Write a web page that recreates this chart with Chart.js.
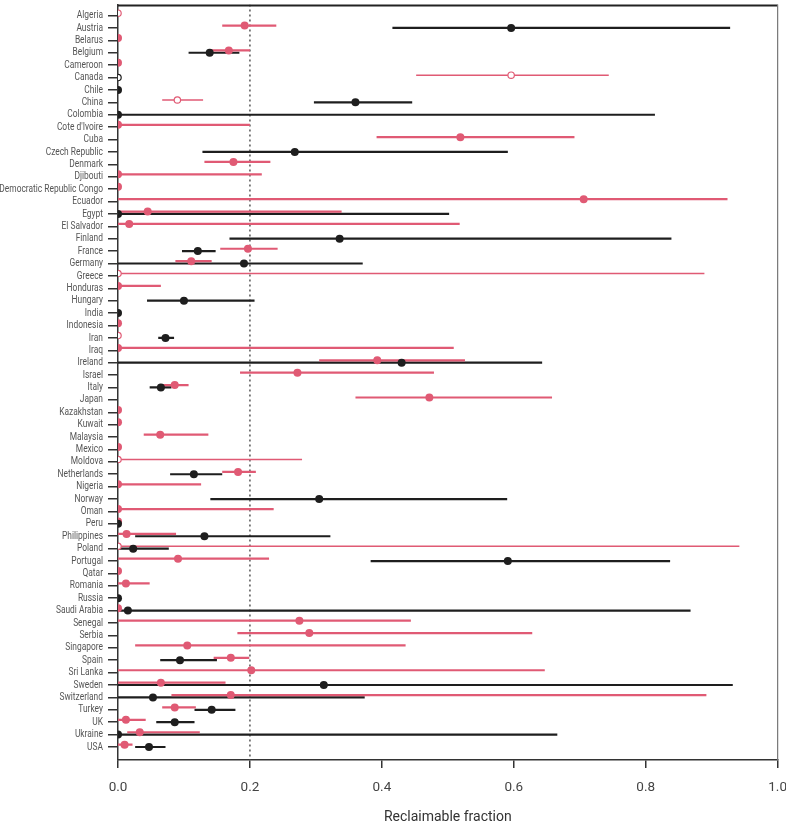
<!DOCTYPE html>
<html>
<head>
<meta charset="utf-8">
<script src="https://cdn.jsdelivr.net/npm/chart.js@4.4.1/dist/chart.umd.min.js"></script>
<style>
  html, body { margin: 0; padding: 0; background: #fff; overflow: hidden; }
  #wrap { width: 786px; height: 826px; }
</style>
</head>
<body>
<div id="wrap"><canvas id="chart"></canvas></div>
<script>
// --- data ---
const COUNTRIES = ['Algeria','Austria','Belarus','Belgium','Cameroon','Canada','Chile','China','Colombia',"Cote d'Ivoire",
  'Cuba','Czech Republic','Denmark','Djibouti','Democratic Republic Congo','Ecuador','Egypt','El Salvador','Finland','France',
  'Germany','Greece','Honduras','Hungary','India','Indonesia','Iran','Iraq','Ireland','Israel',
  'Italy','Japan','Kazakhstan','Kuwait','Malaysia','Mexico','Moldova','Netherlands','Nigeria','Norway',
  'Oman','Peru','Philippines','Poland','Portugal','Qatar','Romania','Russia','Saudi Arabia','Senegal',
  'Serbia','Singapore','Spain','Sri Lanka','Sweden','Switzerland','Turkey','UK','Ukraine','USA'];

// pink series: estimate, lower, upper
const PINK_EST = [0, 0.192, 0, 0.168, 0, 0.596, null, 0.090, null, 0,
  0.519, null, 0.175, 0, 0, 0.706, 0.045, 0.017, null, 0.197,
  0.111, 0, 0, null, null, 0, 0, 0, 0.393, 0.272,
  0.086, 0.472, 0, 0, 0.064, 0, 0, 0.182, 0, null,
  0, 0, 0.013, 0, 0.091, 0, 0.012, null, 0, 0.275,
  0.290, 0.105, 0.171, 0.202, 0.065, 0.171, 0.086, 0.012, 0.033, 0.010];
const PINK_LO = [null, 0.158, null, 0.139, null, 0.452, null, 0.067, null, 0,
  0.392, null, 0.131, 0, null, 0, 0, 0, null, 0.155,
  0.087, 0, 0, null, null, null, null, 0, 0.305, 0.185,
  0.068, 0.360, null, null, 0.039, null, 0, 0.158, 0, null,
  0, null, 0, 0, 0, null, 0, null, null, 0,
  0.181, 0.026, 0.145, 0, 0, 0.081, 0.067, 0, 0.014, 0];
const PINK_HI = [null, 0.240, null, 0.200, null, 0.744, null, 0.129, null, 0.200,
  0.692, null, 0.231, 0.218, null, 0.924, 0.339, 0.518, null, 0.242,
  0.142, 0.889, 0.065, null, null, null, null, 0.509, 0.526, 0.479,
  0.107, 0.658, null, null, 0.137, null, 0.279, 0.209, 0.126, null,
  0.236, null, 0.088, 0.942, 0.229, null, 0.048, null, null, 0.444,
  0.628, 0.436, 0.199, 0.647, 0.163, 0.892, 0.118, 0.042, 0.124, 0.022];
const PINK_OPEN = ['Algeria', 'Canada', 'China', 'Greece', 'Iran', 'Moldova', 'Poland'];

// black series: estimate, lower, upper
const BLACK_EST = [null, 0.596, null, 0.139, null, 0, 0, 0.360, 0, null,
  null, 0.268, null, null, null, null, 0, null, 0.336, 0.121,
  0.191, null, null, 0.100, 0, null, 0.072, null, 0.430, null,
  0.065, null, null, null, null, null, null, 0.115, null, 0.305,
  null, 0, 0.131, 0.023, 0.591, null, null, 0, 0.015, null,
  null, null, 0.094, null, 0.312, 0.053, 0.142, 0.086, 0, 0.047];
const BLACK_LO = [null, 0.416, null, 0.107, null, null, null, 0.297, 0, null,
  null, 0.128, null, null, null, null, 0, null, 0.169, 0.097,
  0, null, null, 0.044, null, null, 0.061, null, 0, null,
  0.048, null, null, null, null, null, null, 0.079, null, 0.140,
  null, null, 0.026, 0, 0.383, null, null, null, 0, null,
  null, null, 0.064, null, 0, 0, 0.116, 0.058, 0, 0.026];
const BLACK_HI = [null, 0.928, null, 0.184, null, null, null, 0.446, 0.814, null,
  null, 0.591, null, null, null, null, 0.502, null, 0.839, 0.148,
  0.371, null, null, 0.207, null, null, 0.085, null, 0.643, null,
  0.081, null, null, null, null, null, null, 0.158, null, 0.590,
  null, null, 0.322, 0.077, 0.837, null, null, null, 0.868, null,
  null, null, 0.150, null, 0.932, 0.374, 0.178, 0.116, 0.666, 0.072];
const BLACK_OPEN = ['Canada'];

const X_TICKS = [0, 0.2, 0.4, 0.6, 0.8, 1.0];
const THRESHOLD = 0.2;

const PINK = '#e05a74';
const BLACK = '#1e1e1e';
const PINK_SHIFT = -0.19;   // pink row drawn a little above the tick
const LABEL_SQUEEZE = 0.8;  // country names are set in a condensed face
const PLOT_RIGHT = 778;     // right edge of the plot frame in the page

function buildPoints(est, lo, hi, openList, shift) {
    const pts = [];
    est.forEach((v, i) => {
        if (v === null) return;
        pts.push({ x: v, y: i + shift, lo: lo[i], hi: hi[i], open: openList.includes(COUNTRIES[i]) });
    });
    return pts;
}

const blackPts = buildPoints(BLACK_EST, BLACK_LO, BLACK_HI, BLACK_OPEN, 0);
const pinkPts = buildPoints(PINK_EST, PINK_LO, PINK_HI, PINK_OPEN, PINK_SHIFT);

// confidence intervals + dotted reference line + frame
const intervalPlugin = {
    id: 'intervals',
    beforeDatasetsDraw(chart) {
        const { ctx, chartArea: a, scales: { x, y } } = chart;
        ctx.save();
        ctx.beginPath();
        ctx.rect(a.left, a.top, a.right - a.left, a.bottom - a.top);
        ctx.clip();

        // dotted line at threshold
        const tx = x.getPixelForValue(THRESHOLD);
        ctx.strokeStyle = '#555';
        ctx.lineWidth = 1.5;
        ctx.setLineDash([2, 3]);
        ctx.beginPath();
        ctx.moveTo(tx, a.top);
        ctx.lineTo(tx, a.bottom);
        ctx.stroke();
        ctx.setLineDash([]);

        chart.data.datasets.forEach(ds => {
            ds.data.forEach(p => {
                if (p.lo === null || p.hi === null) return;
                const py = y.getPixelForValue(p.y);
                ctx.strokeStyle = ds.borderColor;
                ctx.lineWidth = p.open ? 1.4 : 2.2;
                ctx.beginPath();
                ctx.moveTo(x.getPixelForValue(p.lo), py);
                ctx.lineTo(x.getPixelForValue(p.hi), py);
                ctx.stroke();
            });
        });
        ctx.restore();
    },
    afterDraw(chart) {
        const { ctx, chartArea: a } = chart;
        ctx.save();
        ctx.strokeStyle = '#222';
        ctx.lineWidth = 2;
        ctx.beginPath();
        ctx.moveTo(a.left, a.top + 1);
        ctx.lineTo(a.right, a.top + 1);
        ctx.stroke();
        ctx.strokeStyle = '#777';
        ctx.lineWidth = 1.2;
        ctx.beginPath();
        ctx.moveTo(a.right, a.top);
        ctx.lineTo(a.right, a.bottom);
        ctx.stroke();
        ctx.restore();
    }
};

const pointStyle = color => ({
    pointRadius: c => c.raw && c.raw.open ? 3.2 : 4,
    pointHoverRadius: c => c.raw && c.raw.open ? 3.2 : 4,
    pointBackgroundColor: c => c.raw && c.raw.open ? '#fff' : color,
    pointBorderColor: color,
    pointBorderWidth: c => c.raw && c.raw.open ? 1.2 : 0
});

const chart = new Chart(document.getElementById('chart'), {
    type: 'scatter',
    data: {
        datasets: [
            { label: 'black', data: blackPts, borderColor: BLACK, clip: 0, ...pointStyle(BLACK) },
            { label: 'pink', data: pinkPts, borderColor: PINK, clip: 0, ...pointStyle(PINK) }
        ]
    },
    options: {
        responsive: true,
        maintainAspectRatio: false,
        animation: false,
        layout: { padding: { top: 0, right: 0, left: 0, bottom: 0 } },
        plugins: { legend: { display: false }, tooltip: { enabled: false } },
        scales: {
            x: {
                type: 'linear',
                min: 0, max: 1,
                afterBuildTicks: s => { s.ticks = X_TICKS.map(v => ({ value: v })); },
                afterFit: s => { s.height = 66; },
                grid: { drawOnChartArea: false, tickLength: 8, color: '#333', lineWidth: 1.5 },
                border: { color: '#333', width: 1.5 },
                ticks: {
                    padding: 12,
                    color: '#444',
                    font: { family: 'Roboto', size: 13.5 },
                    callback: v => v.toFixed(1)
                },
                title: {
                    display: true,
                    text: 'Reclaimable fraction',
                    color: '#333',
                    font: { family: 'Roboto', size: 14 },
                    padding: { top: 6, bottom: 0 }
                }
            },
            y: {
                type: 'linear',
                reverse: true,
                min: -0.9, max: 60.05,
                afterBuildTicks: s => { s.ticks = COUNTRIES.map((c, i) => ({ value: i })); },
                afterFit: s => { s.width = 118; s.paddingTop = 0; s.paddingBottom = 0; },
                grid: { drawOnChartArea: false, tickLength: 10, color: '#333', lineWidth: 1.5 },
                border: { color: '#333', width: 1.5 },
                ticks: {
                    autoSkip: false,
                    padding: 5,
                    color: '#555',
                    font: { family: 'Roboto', size: 10.5 },
                    callback: v => COUNTRIES[v]
                }
            }
        }
    },
    plugins: [intervalPlugin]
});

// squeeze the country labels horizontally, anchored at their right edge
const yScale = chart.scales.y;
const baseDrawLabels = yScale.drawLabels.bind(yScale);
yScale._computeLabelArea = () => undefined;
yScale.drawLabels = function (area) {
    const c = this.ctx;
    const ax = this.right - 15;
    c.save();
    c.translate(ax, 0);
    c.scale(LABEL_SQUEEZE, 1);
    c.translate(-ax, 0);
    baseDrawLabels(area);
    c.restore();
};

// widen the canvas (page clips it) until the frame ends where the reference's does
const wrap = document.getElementById('wrap');
let wrapWidth = 786;
for (let k = 0; k < 5; k++) {
    const diff = PLOT_RIGHT - chart.chartArea.right;
    if (Math.abs(diff) < 0.5) break;
    wrapWidth = Math.round(wrapWidth + diff);
    wrap.style.width = wrapWidth + 'px';
    chart.resize();
}
chart.draw();
</script>
</body>
</html>
